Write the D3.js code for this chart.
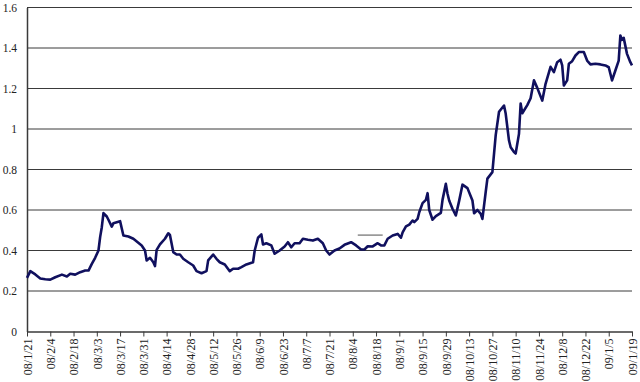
<!DOCTYPE html>
<html><head><meta charset="utf-8">
<script src="https://cdn.jsdelivr.net/npm/d3@7"></script>
<style>html,body{margin:0;padding:0;background:#fff;}svg{display:block;}
.lbl text{font-family:"Liberation Serif",serif;}</style>
</head><body>
<svg id="chart" width="640" height="382"></svg>
<script>
const dates = ["2008-01-21","2008-01-23","2008-01-26","2008-01-29","2008-02-01","2008-02-04","2008-02-07","2008-02-11","2008-02-14","2008-02-16",
"2008-02-19","2008-02-22","2008-02-25","2008-02-27","2008-02-29","2008-03-02","2008-03-04","2008-03-05","2008-03-06","2008-03-07",
"2008-03-09","2008-03-10","2008-03-12","2008-03-13","2008-03-15","2008-03-17","2008-03-19","2008-03-22","2008-03-25","2008-03-30",
"2008-04-01","2008-04-02","2008-04-04","2008-04-06","2008-04-07","2008-04-08","2008-04-10","2008-04-13","2008-04-15","2008-04-16",
"2008-04-18","2008-04-20","2008-04-22","2008-04-24","2008-04-27","2008-04-30","2008-05-02","2008-05-05","2008-05-08","2008-05-09",
"2008-05-12","2008-05-14","2008-05-16","2008-05-19","2008-05-22","2008-05-24","2008-05-27","2008-05-29","2008-06-01","2008-06-05",
"2008-06-06","2008-06-08","2008-06-10","2008-06-11","2008-06-13","2008-06-16","2008-06-18","2008-06-21","2008-06-24","2008-06-26",
"2008-06-28","2008-06-30","2008-07-03","2008-07-05","2008-07-08","2008-07-11","2008-07-14","2008-07-17","2008-07-19","2008-07-21",
"2008-07-24","2008-07-27","2008-07-30","2008-08-03","2008-08-06","2008-08-09","2008-08-11","2008-08-13","2008-08-16","2008-08-19",
"2008-08-21","2008-08-23","2008-08-25","2008-08-28","2008-08-31","2008-09-02","2008-09-03","2008-09-05","2008-09-07","2008-09-09",
"2008-09-10","2008-09-12","2008-09-13","2008-09-15","2008-09-17","2008-09-18","2008-09-19","2008-09-21","2008-09-23","2008-09-26",
"2008-09-27","2008-09-29","2008-09-30","2008-10-01","2008-10-03","2008-10-05","2008-10-07","2008-10-09","2008-10-12","2008-10-15",
"2008-10-16","2008-10-18","2008-10-20","2008-10-21","2008-10-23","2008-10-24","2008-10-27","2008-10-29","2008-10-31","2008-11-03",
"2008-11-04","2008-11-06","2008-11-07","2008-11-09","2008-11-10","2008-11-12","2008-11-13","2008-11-14","2008-11-17","2008-11-19",
"2008-11-21","2008-11-23","2008-11-26","2008-11-28","2008-12-01","2008-12-03","2008-12-05","2008-12-07","2008-12-08","2008-12-09",
"2008-12-11","2008-12-12","2008-12-14","2008-12-16","2008-12-18","2008-12-21","2008-12-23","2008-12-25","2008-12-28","2008-12-31",
"2009-01-03","2009-01-05","2009-01-07","2009-01-09","2009-01-11","2009-01-12","2009-01-13","2009-01-14","2009-01-16","2009-01-18",
"2009-01-19"];
const values = [0.265,0.298,0.282,0.262,0.258,0.256,0.268,0.281,0.272,0.285,
0.281,0.293,0.301,0.301,0.334,0.364,0.400,0.466,0.515,0.585,
0.568,0.552,0.518,0.535,0.540,0.545,0.474,0.469,0.458,0.425,
0.400,0.351,0.364,0.342,0.323,0.403,0.430,0.458,0.485,0.477,
0.392,0.380,0.380,0.359,0.342,0.326,0.298,0.288,0.298,0.351,
0.380,0.359,0.342,0.331,0.298,0.310,0.310,0.318,0.331,0.342,
0.400,0.463,0.479,0.430,0.436,0.425,0.384,0.400,0.420,0.441,
0.416,0.436,0.436,0.458,0.453,0.449,0.458,0.436,0.400,0.380,
0.400,0.410,0.428,0.441,0.425,0.405,0.405,0.421,0.420,0.436,
0.425,0.425,0.458,0.474,0.482,0.463,0.490,0.519,0.528,0.548,
0.540,0.556,0.589,0.634,0.650,0.683,0.600,0.552,0.570,0.586,
0.650,0.729,0.680,0.647,0.606,0.573,0.645,0.725,0.708,0.647,
0.584,0.600,0.581,0.556,0.690,0.755,0.787,0.970,1.085,1.116,
1.076,0.943,0.910,0.886,0.879,0.976,1.126,1.078,1.118,1.152,
1.240,1.203,1.140,1.223,1.307,1.281,1.330,1.342,1.314,1.215,
1.240,1.322,1.335,1.363,1.380,1.380,1.338,1.319,1.322,1.319,
1.314,1.305,1.240,1.289,1.338,1.462,1.440,1.450,1.371,1.330,
1.314];
const tickLabels = ["08/1/21","08/2/4","08/2/18","08/3/3","08/3/17","08/3/31","08/4/14","08/4/28","08/5/12","08/5/26",
"08/6/9","08/6/23","08/7/7","08/7/21","08/8/4","08/8/18","08/9/1","08/9/15","08/9/29","08/10/13",
"08/10/27","08/11/10","08/11/24","08/12/8","08/12/22","09/1/5","09/1/19"];
const yTicks = [0,0.2,0.4,0.6,0.8,1,1.2,1.4,1.6];
const strayDates = ["2008-08-07","2008-08-22"];
const strayValues = [0.476,0.476];

const svg = d3.select("#chart");
const parseISO = d3.timeParse("%Y-%m-%d");
const parseTick = d3.timeParse("%y/%m/%d");
const fmtTick = d3.timeFormat("%y/%-m/%-d");
const tickDates = tickLabels.map(parseTick);

const x = d3.scaleTime().domain([tickDates[0], tickDates[tickDates.length-1]]).range([27, 632]);
const y = d3.scaleLinear().domain([0, 1.6]).range([331.5, 7.5]);

// gridlines
svg.append("g").selectAll("line").data(yTicks.filter(v => v > 0)).join("line")
  .attr("x1", x.range()[0]).attr("x2", x.range()[1])
  .attr("y1", d => y(d)).attr("y2", d => y(d))
  .attr("stroke", "#3a3a3a").attr("stroke-width", 1);

// y axis
const yAxis = svg.append("g").attr("class", "lbl").attr("transform", "translate(27,0)")
  .call(d3.axisLeft(y).tickValues(yTicks).tickSize(0).tickPadding(10).tickFormat(d => String(+d.toFixed(1))));
yAxis.attr("font-family", null);
yAxis.select(".domain").attr("stroke", "#3a3a3a").attr("stroke-width", 1.5);
yAxis.selectAll("text").attr("font-size", 11.5).attr("fill", "#222");

// x axis
const xAxis = svg.append("g").attr("class", "lbl").attr("transform", `translate(0,${y(0)})`)
  .call(d3.axisBottom(x).tickValues(tickDates).tickSize(5).tickSizeOuter(0).tickFormat(fmtTick));
xAxis.attr("font-family", null);
xAxis.select(".domain").attr("stroke", "#3a3a3a").attr("stroke-width", 1.5);
xAxis.selectAll(".tick line").attr("stroke", "#3a3a3a");
xAxis.selectAll("text")
  .attr("font-size", 12).attr("fill", "#222")
  .attr("text-anchor", "end")
  .attr("transform", "rotate(-90)")
  .attr("x", -7).attr("y", 0).attr("dy", "0.35em");

// stray segment
const strayData = strayDates.map((d, i) => ({date: parseISO(d), value: strayValues[i]}));
svg.append("path").datum(strayData)
  .attr("fill", "none").attr("stroke", "#8a8a8a").attr("stroke-width", 1.5)
  .attr("d", d3.line().x(d => x(d.date)).y(d => y(d.value)));

// main line
const data = dates.map((d, i) => ({date: parseISO(d), value: values[i]}));
svg.append("path").datum(data)
  .attr("fill", "none").attr("stroke", "#10105e").attr("stroke-width", 2.6)
  .attr("stroke-linejoin", "round")
  .attr("d", d3.line().x(d => x(d.date)).y(d => y(d.value)));
</script>
</body></html>
